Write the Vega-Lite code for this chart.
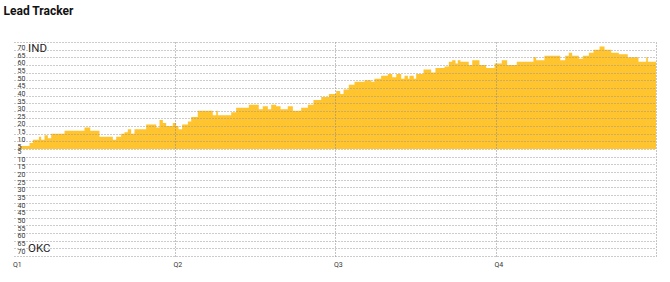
{
  "$schema": "https://vega.github.io/schema/vega-lite/v6.json",
  "width": 642,
  "height": 214,
  "autosize": {"type": "none"},
  "padding": {"left": 14, "top": 42, "right": 14, "bottom": 26},
  "background": "white",
  "title": {"text": "Lead Tracker", "anchor": "start", "frame": "group", "font": "Roboto", "fontSize": 12, "fontWeight": "bold", "color": "#111111", "offset": 15, "baseline": "alphabetic", "dx": -10.5},
  "config": {"view": {"stroke": null}, "font": "Roboto"},
  "layer": [
    {
      "data": {"values": [
        {"t": 0, "lead": 0}, {"t": 0.41, "lead": 2}, {"t": 1.16, "lead": 4}, {"t": 1.41, "lead": 6}, {"t": 1.86, "lead": 8},
        {"t": 2.03, "lead": 6}, {"t": 2.28, "lead": 9}, {"t": 2.53, "lead": 7}, {"t": 2.78, "lead": 10}, {"t": 3.78, "lead": 12},
        {"t": 5.27, "lead": 14}, {"t": 5.70, "lead": 12}, {"t": 6.39, "lead": 8}, {"t": 7.39, "lead": 6}, {"t": 7.64, "lead": 8},
        {"t": 8.01, "lead": 10}, {"t": 8.26, "lead": 11}, {"t": 8.51, "lead": 13}, {"t": 8.76, "lead": 10}, {"t": 9.01, "lead": 13},
        {"t": 9.88, "lead": 16}, {"t": 10.63, "lead": 14}, {"t": 10.88, "lead": 19}, {"t": 11.13, "lead": 17}, {"t": 11.38, "lead": 15},
        {"t": 11.87, "lead": 17}, {"t": 12.12, "lead": 15}, {"t": 12.30, "lead": 13}, {"t": 12.57, "lead": 16}, {"t": 13.00, "lead": 18},
        {"t": 13.25, "lead": 21}, {"t": 13.74, "lead": 25}, {"t": 14.86, "lead": 22}, {"t": 15.12, "lead": 25}, {"t": 15.24, "lead": 22},
        {"t": 16.24, "lead": 24}, {"t": 16.61, "lead": 27}, {"t": 17.56, "lead": 29}, {"t": 18.30, "lead": 26}, {"t": 18.60, "lead": 28},
        {"t": 18.98, "lead": 26}, {"t": 19.23, "lead": 29}, {"t": 19.60, "lead": 28}, {"t": 19.93, "lead": 26}, {"t": 20.47, "lead": 28},
        {"t": 20.85, "lead": 25}, {"t": 21.47, "lead": 27}, {"t": 21.97, "lead": 29}, {"t": 22.39, "lead": 32}, {"t": 22.97, "lead": 34},
        {"t": 23.54, "lead": 36}, {"t": 24.09, "lead": 38}, {"t": 24.39, "lead": 36}, {"t": 24.64, "lead": 39}, {"t": 25.03, "lead": 42},
        {"t": 25.46, "lead": 44}, {"t": 26.21, "lead": 45}, {"t": 26.71, "lead": 44}, {"t": 26.95, "lead": 46}, {"t": 27.45, "lead": 48},
        {"t": 27.95, "lead": 49}, {"t": 28.28, "lead": 47}, {"t": 28.58, "lead": 49}, {"t": 28.95, "lead": 46}, {"t": 29.20, "lead": 48},
        {"t": 29.45, "lead": 46}, {"t": 29.57, "lead": 48}, {"t": 29.89, "lead": 46}, {"t": 30.07, "lead": 49}, {"t": 30.62, "lead": 52},
        {"t": 31.19, "lead": 50}, {"t": 31.51, "lead": 53}, {"t": 32.19, "lead": 54}, {"t": 32.51, "lead": 57}, {"t": 32.76, "lead": 58},
        {"t": 33.01, "lead": 56}, {"t": 33.18, "lead": 58}, {"t": 33.38, "lead": 57}, {"t": 34.00, "lead": 55}, {"t": 34.26, "lead": 58},
        {"t": 34.80, "lead": 55}, {"t": 35.30, "lead": 53}, {"t": 35.93, "lead": 56}, {"t": 36.47, "lead": 58}, {"t": 36.87, "lead": 55},
        {"t": 37.59, "lead": 57}, {"t": 38.84, "lead": 60}, {"t": 39.04, "lead": 58}, {"t": 39.66, "lead": 61}, {"t": 40.84, "lead": 58},
        {"t": 41.21, "lead": 61}, {"t": 41.48, "lead": 63}, {"t": 41.73, "lead": 61}, {"t": 42.23, "lead": 59}, {"t": 42.53, "lead": 61},
        {"t": 42.98, "lead": 63}, {"t": 43.33, "lead": 65}, {"t": 43.78, "lead": 67}, {"t": 44.15, "lead": 65}, {"t": 44.65, "lead": 63},
        {"t": 45.22, "lead": 62}, {"t": 45.89, "lead": 60}, {"t": 46.69, "lead": 57}, {"t": 47.27, "lead": 60}, {"t": 47.39, "lead": 57},
        {"t": 48, "lead": 57}
      ]},
      "mark": {"type": "area", "interpolate": "step-after", "color": "#FFC42E"},
      "encoding": {
        "x": {
          "field": "t", "type": "quantitative",
          "scale": {"domain": [0, 48], "nice": false, "zero": false},
          "axis": {
            "values": [0, 12, 24, 36, 48], "tickCount": 5, "title": null, "domain": false, "ticks": false,
            "labelAlign": "left", "labelFlush": false, "labelPadding": 4, "labelBaseline": "top",
            "labelOffset": -1.5, "labelFont": "Roboto", "labelFontSize": 7, "labelColor": "#333333",
            "labelOverlap": false,
            "labelExpr": "datum.value == 0 ? 'Q1' : datum.value == 12 ? 'Q2' : datum.value == 24 ? 'Q3' : datum.value == 36 ? 'Q4' : ''",
            "gridColor": "#888888", "gridDash": [1, 2], "gridWidth": 1,
            "gridOpacity": {"condition": {"test": "datum.value == 0", "value": 0}, "value": 1},
            "zindex": 1
          }
        },
        "y": {
          "field": "lead", "type": "quantitative",
          "scale": {"domain": [-70, 70], "nice": false},
          "axis": {
            "values": [-70, -65, -60, -55, -50, -45, -40, -35, -30, -25, -20, -15, -10, -5, 0, 5, 10, 15, 20, 25, 30, 35, 40, 45, 50, 55, 60, 65, 70],
            "tickCount": 29,
            "title": null, "domain": false, "ticks": false,
            "labelAlign": "left", "labelPadding": -3, "labelFont": "Roboto", "labelFontSize": 7, "labelColor": "#333333",
            "labelOverlap": false, "labelBound": false, "labelFlush": false,
            "labelBaseline": {"condition": {"test": "datum.value > 0", "value": "top"}, "value": "bottom"},
            "labelOffset": {"condition": {"test": "datum.value > 0", "value": 1.5}, "value": -2},
            "labelExpr": "datum.value == 0 ? '' : '' + abs(datum.value)",
            "gridColor": "#999999", "gridDash": [1, 2], "gridWidth": 1,
            "zindex": 1
          }
        }
      }
    },
    {
      "data": {"values": [
        {"team": "IND", "t": 1.05, "lead": 65.5},
        {"team": "OKC", "t": 1.05, "lead": -65.5}
      ]},
      "mark": {"type": "text", "align": "left", "baseline": "middle", "font": "Roboto", "fontSize": 11.5, "color": "#222222"},
      "encoding": {
        "x": {"field": "t", "type": "quantitative"},
        "y": {"field": "lead", "type": "quantitative"},
        "text": {"field": "team"}
      }
    }
  ]
}
